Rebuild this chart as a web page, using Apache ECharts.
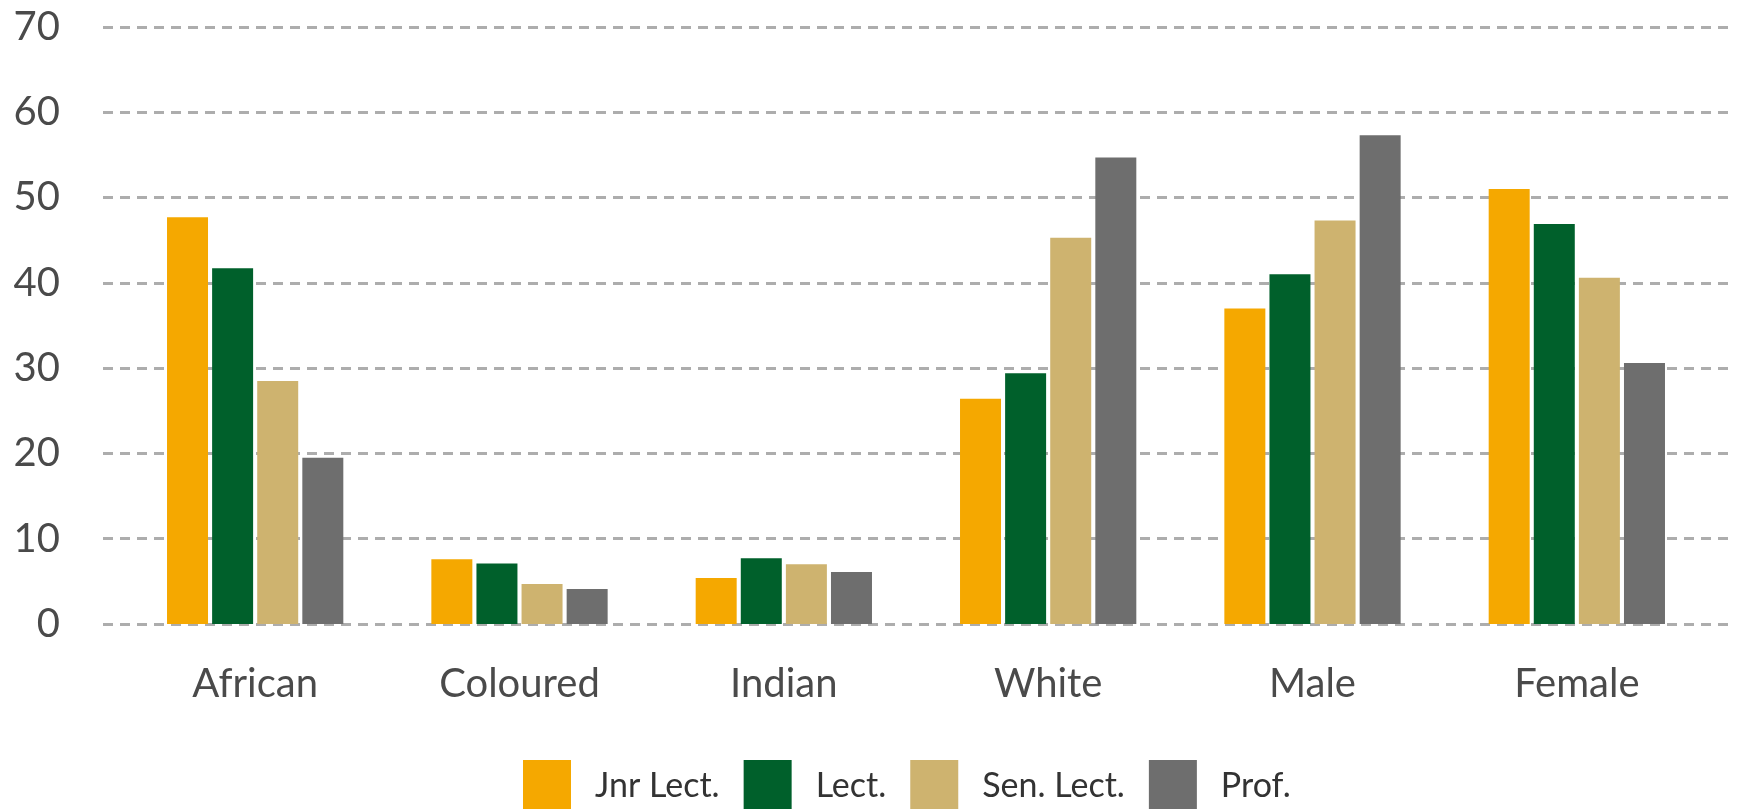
<!DOCTYPE html>
<html>
<head>
<meta charset="utf-8">
<script src="https://cdn.jsdelivr.net/npm/echarts@6/dist/echarts.min.js"></script>
<style>
  html, body { margin: 0; padding: 0; background: #fff; }
  #chart { width: 1739px; height: 809px; }
</style>
</head>
<body>
<div id="chart"></div>
<script>
// data
const categories = ['African', 'Coloured', 'Indian', 'White', 'Male', 'Female'];
const seriesNames = ['Jnr Lect.', 'Lect.', 'Sen. Lect.', 'Prof.'];
const jnrLect = [47.7, 7.6, 5.4, 26.4, 37.0, 51.0];
const lect = [41.7, 7.1, 7.7, 29.4, 41.0, 46.9];
const senLect = [28.5, 4.7, 7.0, 45.3, 47.3, 40.6];
const prof = [19.5, 4.1, 6.1, 54.7, 57.3, 30.6];
const yTicks = [0, 10, 20, 30, 40, 50, 60, 70];

const colors = ['#F5A800', '#00602B', '#CEB36F', '#6E6E6E'];
const textColor = '#4a4a4a';
const font = 'Lato';

const chart = echarts.init(document.getElementById('chart'));

const values = [jnrLect, lect, senLect, prof];

const option = {
  animation: false,
  color: colors,
  textStyle: { fontFamily: font },
  legend: {
    data: seriesNames,
    left: 523,
    top: 760,
    padding: 0,
    icon: 'rect',
    itemWidth: 48,
    itemHeight: 52,
    itemGap: 24,
    textStyle: {
      fontFamily: font,
      fontSize: 34,
      color: '#333',
      padding: [0, 0, 0, 19]
    }
  },
  grid: [
    // grid for the dashed lines (wider than the bars area)
    { left: 103, right: 4, top: 27, bottom: 185 },
    // grid for the bars
    { left: 123, right: 30, top: 27, bottom: 185 }
  ],
  xAxis: [
    { gridIndex: 0, type: 'value', show: false },
    {
      gridIndex: 1,
      type: 'category',
      data: categories,
      axisLine: { show: false },
      axisTick: { show: false },
      axisLabel: {
        color: textColor,
        fontFamily: font,
        fontSize: 40,
        margin: 40
      }
    }
  ],
  yAxis: [
    {
      gridIndex: 0,
      type: 'value',
      min: yTicks[0],
      max: yTicks[yTicks.length - 1],
      interval: 10,
      axisLine: { show: false },
      axisTick: { show: false },
      axisLabel: {
        color: textColor,
        fontFamily: font,
        fontSize: 40,
        margin: 43
      },
      splitLine: {
        show: true,
        lineStyle: { color: '#adadad', width: 3, type: [10, 7] }
      }
    },
    {
      gridIndex: 1,
      type: 'value',
      min: yTicks[0],
      max: yTicks[yTicks.length - 1],
      show: false
    }
  ],
  series: seriesNames.map((name, i) => ({
    name: name,
    type: 'bar',
    xAxisIndex: 1,
    yAxisIndex: 1,
    data: values[i],
    barWidth: 41,
    barGap: '10%',
    itemStyle: { color: colors[i] }
  }))
};

chart.setOption(option);
</script>
</body>
</html>
